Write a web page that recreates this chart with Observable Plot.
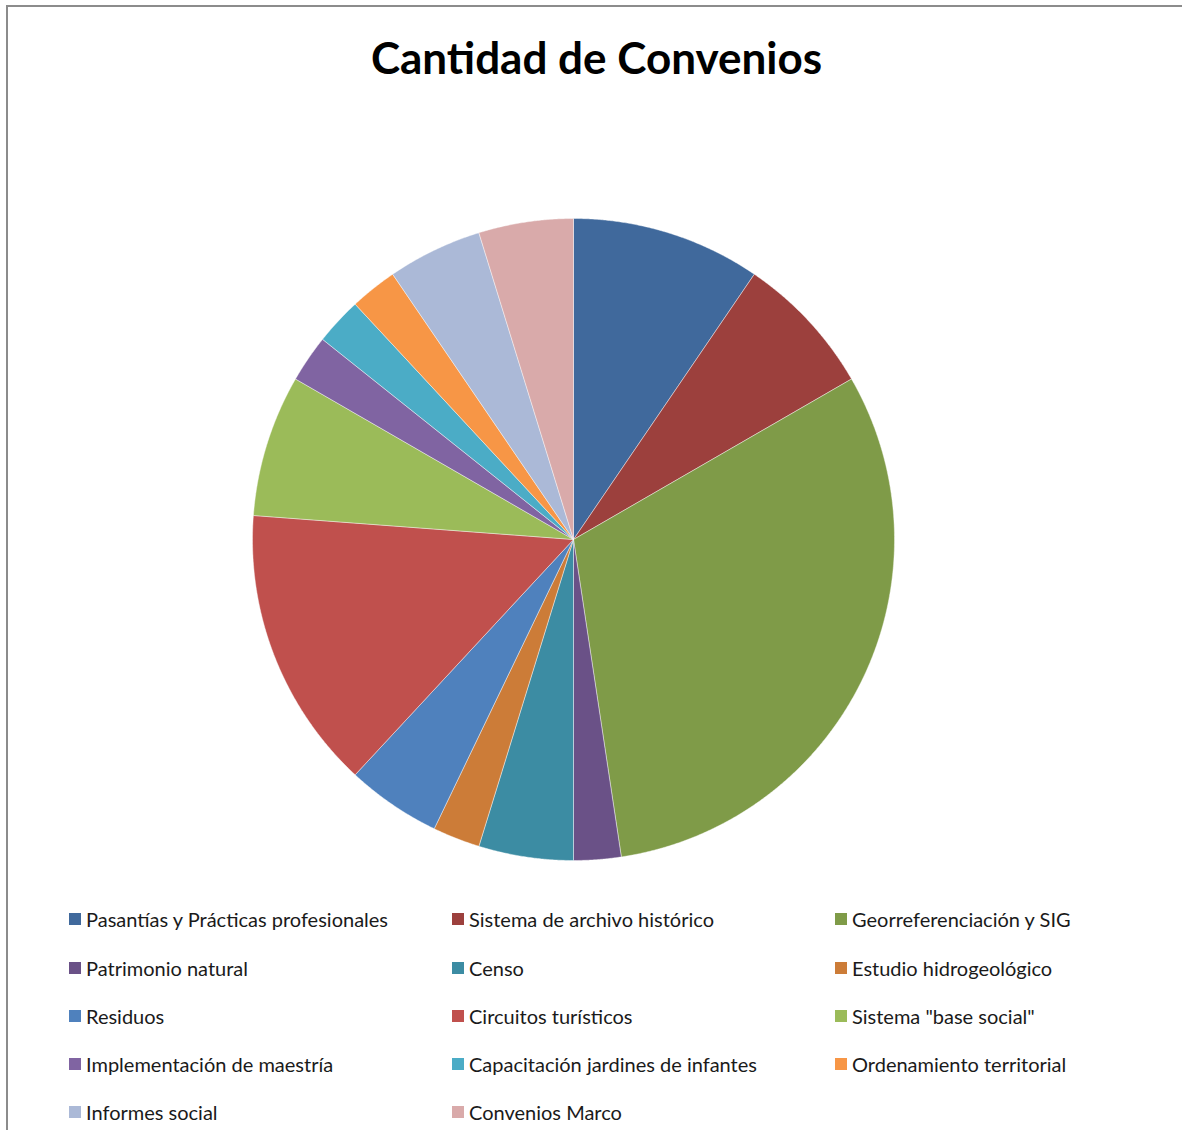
<!DOCTYPE html>
<html>
<head>
<meta charset="utf-8">
<script src="https://cdn.jsdelivr.net/npm/d3@7"></script>
<script src="https://cdn.jsdelivr.net/npm/@observablehq/plot@0.6"></script>
<style>
  html, body { margin: 0; padding: 0; background: #fff; }
  body { width: 1182px; height: 1130px; overflow: hidden; position: relative; font-family: Lato, "Open Sans", sans-serif; }
  #frame { position: absolute; left: 6px; top: 5px; width: 1300px; height: 1300px; border: 2px solid #8c8c8c; box-sizing: border-box; }
  #title { position: absolute; left: 0; width: 1193px; top: 27px; text-align: center; font-weight: 700; font-size: 44px; color: #000; line-height: 60px; }
  #chart { position: absolute; left: 0; top: 100px; }
  #legend { position: absolute; left: 0; top: 0; }
  .item { position: absolute; display: flex; align-items: center; font-size: 20px; color: #1a1a1a; white-space: nowrap; height: 24px; }
  .sw { width: 12px; height: 12px; margin-right: 5px; flex: none; }
</style>
</head>
<body>
<div id="frame"></div>
<div id="title">Cantidad de Convenios</div>
<div id="chart"></div>
<div id="legend"></div>
<script>
const categories = [
  "Pasantías y Prácticas profesionales",
  "Sistema de archivo histórico",
  "Georreferenciación y SIG",
  "Patrimonio natural",
  "Censo",
  "Estudio hidrogeológico",
  "Residuos",
  "Circuitos turísticos",
  "Sistema \"base social\"",
  "Implementación de maestría",
  "Capacitación jardines de infantes",
  "Ordenamiento territorial",
  "Informes social",
  "Convenios Marco"
];
const values = [4, 3, 13, 1, 2, 1, 2, 6, 3, 1, 1, 1, 2, 2];
const colors = [
  "#40699c", "#9c403d", "#7f9b48", "#6a5187", "#3c8ca3", "#cc7c38",
  "#4f81bd", "#c0504d", "#9bbb59", "#8064a2", "#4bacc6", "#f79646",
  "#abb9d7", "#d9aaaa"
];

// Build slice outlines (in unit data space) from the pie layout
const arcs = d3.pie().sort(null).value(d => d.value)(categories.map((c, i) => ({cat: c, value: values[i]})));
const rows = [];
for (const a of arcs) {
  const cat = a.data.cat;
  rows.push({cat, x: 0, y: 0});
  const n = Math.max(2, Math.ceil((a.endAngle - a.startAngle) / (Math.PI / 720)));
  for (let k = 0; k <= n; k++) {
    const t = a.startAngle + (a.endAngle - a.startAngle) * k / n;
    rows.push({cat, x: Math.sin(t), y: Math.cos(t)});
  }
  rows.push({cat, x: 0, y: 0});
}

const cx = 573, cy = 539, rad = 321, svgTop = 100;
const chart = Plot.plot({
  width: 1182,
  height: 780,
  margin: 0,
  x: {domain: [-1, 1], range: [cx - rad, cx + rad], axis: null},
  y: {domain: [-1, 1], range: [cy - svgTop + rad, cy - svgTop - rad], axis: null},
  color: {type: "ordinal", domain: categories, range: colors},
  style: {background: "transparent"},
  marks: [
    Plot.line(rows, {x: "x", y: "y", z: "cat", fill: "cat", stroke: "#ffffff", strokeWidth: 0.6, strokeOpacity: 0.7, curve: "linear"})
  ]
});
document.getElementById("chart").appendChild(chart);

// Legend (HTML, below the pie)
const legend = document.getElementById("legend");
const colX = [69, 452, 835];
const rowY = [919, 967.5, 1016, 1064, 1112];
categories.forEach((c, i) => {
  const col = i % 3, row = Math.floor(i / 3);
  const div = document.createElement("div");
  div.className = "item";
  div.style.left = colX[col] + "px";
  div.style.top = (rowY[row] - 12) + "px";
  const sw = document.createElement("span");
  sw.className = "sw";
  sw.style.background = colors[i];
  const tx = document.createElement("span");
  tx.textContent = c;
  div.appendChild(sw);
  div.appendChild(tx);
  legend.appendChild(div);
});
</script>
</body>
</html>
